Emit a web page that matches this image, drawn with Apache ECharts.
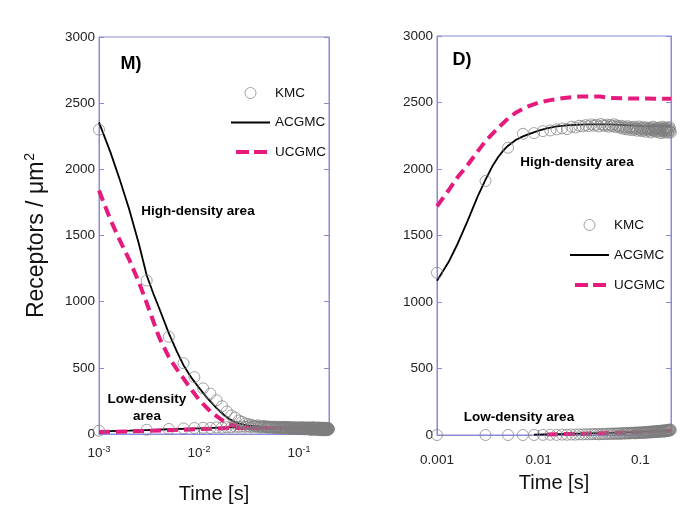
<!DOCTYPE html>
<html>
<head>
<meta charset="utf-8">
<script src="https://cdn.jsdelivr.net/npm/echarts@6/dist/echarts.min.js"></script>
<style>
html,body{margin:0;padding:0;background:#fff;}
#chart{width:685px;height:528px;}
</style>
</head>
<body>
<div id="chart"></div>
<script>
// ---------- DATA ----------
// KMC sampling times (s)
const kmcTimes = [
0.001,0.003,0.005,0.007,0.009,0.011,0.013,0.015,0.017,0.019,
0.021,0.023,0.025,0.027,0.029,0.031,0.033,0.035,0.037,0.039,
0.041,0.043,0.045,0.047,0.049,0.051,0.053,0.055,0.057,0.059,
0.061,0.063,0.065,0.067,0.069,0.071,0.073,0.075,0.077,0.079,
0.081,0.083,0.085,0.087,0.089,0.091,0.093,0.095,0.097,0.099,
0.101,0.103,0.105,0.107,0.109,0.111,0.113,0.115,0.117,0.119,
0.121,0.123,0.125,0.127,0.129,0.131,0.133,0.135,0.137,0.139,
0.141,0.143,0.145,0.147,0.149,0.151,0.153,0.155,0.157,0.159,
0.161,0.163,0.165,0.167,0.169,0.171,0.173,0.175,0.177,0.179,
0.181,0.183,0.185,0.187,0.189,0.191,0.193,0.195,0.197,0.199];

// Panel M (left)
const mKmcHigh = [
2300,1160,735,535,430,345,305,255,210,170,
140,125,102,92,80,75,70,64,60,66,
58,55,61,52,57,50,54,48,56,46,
52,44,50,47,41,55,45,49,40,53,
43,48,38,51,45,39,50,42,47,36,
49,41,44,37,52,40,46,35,48,42,
38,50,43,33,47,40,45,30,52,39,
44,36,49,41,32,47,38,43,29,50,
40,35,46,31,44,38,27,48,36,42,
33,45,39,28,47,35,41,30,44,38];
const mKmcLow = [
25,32,38,42,45,47,46,50,48,52,
51,55,53,56,54,58,52,57,55,50,
54,49,56,52,47,55,50,53,46,51,
48,54,45,50,52,44,49,53,42,48,
51,45,47,40,50,46,43,49,38,47,
44,50,41,46,36,48,43,39,47,42,
45,37,49,41,44,34,46,40,43,35,
48,39,42,33,45,38,41,47,32,44,
37,42,30,46,39,35,43,31,45,38,
34,42,36,29,44,37,40,32,43,36];
const mAcgHighT = [0.001,0.0013,0.0016,0.002,0.0025,0.003,0.0035,0.004,0.005,0.006,0.007,0.0085,0.01,0.012,0.015,0.018,0.02,0.023,0.025,0.03,0.04,0.05,0.1,0.2];
const mAcgHighV = [2355,2130,1930,1700,1440,1200,1060,950,760,625,520,420,350,275,195,140,115,90,80,65,57,52,45,42];
const mUcgHighT = [0.001,0.0013,0.0016,0.002,0.0025,0.003,0.0035,0.004,0.005,0.006,0.007,0.0085,0.01,0.013,0.017,0.02,0.025,0.03,0.05,0.1,0.2];
const mUcgHighV = [1840,1620,1470,1320,1150,990,850,730,580,490,420,330,260,170,105,75,55,48,45,42,40];
const mLowT = [0.001,0.002,0.003,0.005,0.01,0.02,0.05,0.1,0.2];
const mAcgLowV = [20,25,30,36,43,50,50,46,42];
const mUcgLowV = [15,19,23,29,37,45,46,43,40];

// Panel D (right)
const dKmcHigh = [
1220,1910,2160,2265,2270,2285,2290,2298,2305,2300,
2318,2312,2325,2320,2330,2322,2335,2326,2332,2320,
2338,2328,2324,2334,2318,2330,2322,2336,2315,2327,
2320,2310,2325,2305,2318,2300,2312,2322,2296,2308,
2315,2292,2305,2318,2298,2310,2288,2302,2320,2295,
2308,2285,2300,2315,2290,2305,2280,2312,2296,2302,
2288,2310,2298,2275,2305,2292,2318,2284,2300,2295,
2310,2282,2298,2305,2278,2295,2312,2288,2300,2270,
2305,2290,2318,2285,2298,2275,2308,2292,2300,2280,
2312,2288,2296,2272,2305,2290,2315,2282,2298,2275];
const dKmcLow = [
0,0,0,0,0,1,2,1,3,2,
4,3,5,4,6,5,7,6,8,5,
7,9,6,10,8,11,7,12,9,10,
13,8,12,14,10,15,11,16,13,12,
17,14,15,18,12,19,16,14,20,17,
15,21,18,16,22,19,17,24,20,18,
25,21,19,26,23,20,28,22,25,21,
29,24,27,22,30,26,32,23,28,31,
27,33,25,30,35,28,32,26,36,30,
34,29,38,31,35,40,33,37,42,36];
const dAcgHighT = [0.001,0.0013,0.0016,0.002,0.0025,0.003,0.0035,0.004,0.0045,0.005,0.006,0.007,0.008,0.01,0.012,0.015,0.02,0.03,0.05,0.1,0.2];
const dAcgHighV = [1160,1300,1440,1610,1790,1920,2020,2090,2140,2175,2220,2245,2262,2288,2305,2320,2330,2335,2335,2325,2320];
const dUcgHighT = [0.001,0.0013,0.0016,0.002,0.0025,0.003,0.004,0.005,0.006,0.0075,0.01,0.013,0.017,0.025,0.04,0.05,0.08,0.2];
const dUcgHighV = [1720,1840,1940,2030,2130,2210,2310,2380,2425,2465,2500,2518,2532,2545,2545,2535,2530,2528];
const dAcgLowT = [0.009,0.015,0.02,0.03,0.05,0.1,0.2];
const dAcgLowV = [3,6,9,12,16,24,34];
const dUcgLowT = [0.012,0.015,0.02,0.03,0.05,0.1,0.2];
const dUcgLowV = [4,6,8,11,15,22,32];

const yTicks = [0,500,1000,1500,2000,2500,3000];

// ---------- STYLES ----------
const FONT = 'Liberation Sans, Arial, sans-serif';
const FRAME = '#8a8ad8';
const PINK = '#e6197d';
const CIRCLE = '#7d7d7d';
const CLEAR = 'rgba(0,0,0,0)';

const zip = (t, v) => t.map((x, i) => [x, v[i]]);

function xAxisCfg(grid, superscript, margin) {
  return {
    type: 'log', logBase: 10, gridIndex: grid, min: 0.001, max: 0.2,
    axisLine: { lineStyle: { color: FRAME, width: 1 } },
    axisTick: { inside: true, length: 5, lineStyle: { color: FRAME } },
    minorTick: { show: false },
    splitLine: { show: false },
    axisLabel: {
      showMaxLabel: false, margin: margin, color: '#222', fontFamily: FONT, fontSize: 13.5,
      formatter: superscript
        ? (v => '{b|10}{s|' + Math.round(Math.log10(v)) + '}')
        : (v => String(+(+v).toPrecision(3))),
      rich: superscript ? {
        b: { fontSize: 13.5, fontFamily: FONT, color: '#222' },
        s: { fontSize: 9, fontFamily: FONT, color: '#222', padding: [0, 0, 8, 0] }
      } : undefined
    }
  };
}
function yAxisCfg(grid, pos, labels, name) {
  return {
    type: 'value', gridIndex: grid, position: pos, min: yTicks[0], max: yTicks[yTicks.length - 1], interval: 500,
    axisLine: { show: true, lineStyle: { color: FRAME, width: 1 } },
    axisTick: { show: true, inside: true, length: 5, lineStyle: { color: FRAME } },
    splitLine: { show: false },
    axisLabel: { show: labels, margin: 4, color: '#222', fontFamily: FONT, fontSize: 13.5, formatter: v => String(v) },
    name: name || '',
    nameLocation: 'middle', nameGap: 49, nameRotate: 90,
    nameTextStyle: {
      fontFamily: FONT, fontSize: 23, color: '#111',
      rich: {
        a: { fontFamily: FONT, fontSize: 23, color: '#111' },
        s: { fontFamily: FONT, fontSize: 14, color: '#111', padding: [0, 0, 13, 1] }
      }
    }
  };
}

function kmcSeries(name, x, y, data) {
  return {
    name: name, type: 'scatter', xAxisIndex: x, yAxisIndex: y, data: data,
    symbol: 'circle', symbolSize: 11, z: 3,
    itemStyle: { color: CLEAR, borderColor: CIRCLE, borderWidth: 0.9 },
    emphasis: { disabled: true }
  };
}
function acgSeries(name, x, y, data) {
  return {
    name: name, type: 'line', xAxisIndex: x, yAxisIndex: y, data: data,
    symbol: 'none', smooth: false, z: 2,
    lineStyle: { color: '#000', width: 1.8 }, itemStyle: { color: '#000' },
    emphasis: { disabled: true }
  };
}
function ucgSeries(name, x, y, data) {
  return {
    name: name, type: 'line', xAxisIndex: x, yAxisIndex: y, data: data,
    symbol: 'none', smooth: false, z: 2,
    lineStyle: { color: PINK, width: 4, type: [11, 6], cap: 'butt' }, itemStyle: { color: PINK },
    emphasis: { disabled: true }
  };
}

const legendData = [
  { name: 'KMC', icon: 'circle', itemStyle: { color: CLEAR, borderColor: CIRCLE, borderWidth: 0.9 } },
  { name: 'ACGMC', itemStyle: { color: CLEAR, borderColor: CLEAR, borderWidth: 0 },
    lineStyle: { color: '#000', width: 2 } },
  { name: 'UCGMC', itemStyle: { color: CLEAR, borderColor: CLEAR, borderWidth: 0 },
    lineStyle: { color: PINK, width: 4, type: [13, 5], dashOffset: 13, cap: 'butt' } }
];

const chart = echarts.init(document.getElementById('chart'), null, { renderer: 'canvas' });
chart.setOption({
  animation: false,
  backgroundColor: '#fff',
  grid: [
    { left: 99, top: 37, width: 230, height: 397, show: true, borderColor: FRAME, borderWidth: 1 },
    { left: 437, top: 36, width: 234, height: 399, show: true, borderColor: FRAME, borderWidth: 1 }
  ],
  xAxis: [
    Object.assign(xAxisCfg(0, true, 11), { name: 'Time [s]', nameLocation: 'middle', nameGap: 50,
      nameTextStyle: { fontFamily: FONT, fontSize: 20, color: '#111' } }),
    Object.assign(xAxisCfg(1, false, 18), { name: 'Time [s]', nameLocation: 'middle', nameGap: 38,
      nameTextStyle: { fontFamily: FONT, fontSize: 20, color: '#111' } })
  ],
  yAxis: [
    yAxisCfg(0, 'left', true, '{a|Receptors / μm}{s|2}'),
    yAxisCfg(0, 'right', false),
    yAxisCfg(1, 'left', true),
    yAxisCfg(1, 'right', false)
  ],
  legend: [
    { left: 229, top: 86, orient: 'vertical', itemWidth: 39, itemHeight: 11, itemGap: 15.5, padding: 0,
      selectedMode: false, textStyle: { fontFamily: FONT, fontSize: 13.5, color: '#111' }, data: legendData },
    { left: 568, top: 218, orient: 'vertical', itemWidth: 39, itemHeight: 11, itemGap: 16, padding: 0,
      selectedMode: false, textStyle: { fontFamily: FONT, fontSize: 13.5, color: '#111' }, data: legendData }
  ],
  graphic: [
    { type: 'text', x: 131, y: 64, style: { text: 'M)', font: 'bold 18px ' + FONT, fill: '#000', align: 'center', verticalAlign: 'middle' } },
    { type: 'text', x: 462, y: 60, style: { text: 'D)', font: 'bold 18px ' + FONT, fill: '#000', align: 'center', verticalAlign: 'middle' } },
    { type: 'text', x: 198, y: 211, style: { text: 'High-density area', font: 'bold 13.5px ' + FONT, fill: '#000', align: 'center', verticalAlign: 'middle' } },
    { type: 'text', x: 147, y: 399, style: { text: 'Low-density', font: 'bold 13.5px ' + FONT, fill: '#000', align: 'center', verticalAlign: 'middle' } },
    { type: 'text', x: 147, y: 416, style: { text: 'area', font: 'bold 13.5px ' + FONT, fill: '#000', align: 'center', verticalAlign: 'middle' } },
    { type: 'text', x: 577, y: 162, style: { text: 'High-density area', font: 'bold 13.5px ' + FONT, fill: '#000', align: 'center', verticalAlign: 'middle' } },
    { type: 'text', x: 519, y: 417, style: { text: 'Low-density area', font: 'bold 13.5px ' + FONT, fill: '#000', align: 'center', verticalAlign: 'middle' } }
  ],
  series: [
    acgSeries('ACGMC', 0, 0, zip(mAcgHighT, mAcgHighV)),
    acgSeries('ACGMC', 0, 0, zip(mLowT, mAcgLowV)),
    ucgSeries('UCGMC', 0, 0, zip(mUcgHighT, mUcgHighV)),
    ucgSeries('UCGMC', 0, 0, zip(mLowT, mUcgLowV)),
    kmcSeries('KMC', 0, 0, zip(kmcTimes, mKmcHigh)),
    kmcSeries('KMC', 0, 0, zip(kmcTimes, mKmcLow)),
    acgSeries('ACGMC', 1, 2, zip(dAcgHighT, dAcgHighV)),
    acgSeries('ACGMC', 1, 2, zip(dAcgLowT, dAcgLowV)),
    ucgSeries('UCGMC', 1, 2, zip(dUcgHighT, dUcgHighV)),
    ucgSeries('UCGMC', 1, 2, zip(dUcgLowT, dUcgLowV)),
    kmcSeries('KMC', 1, 2, zip(kmcTimes, dKmcHigh)),
    kmcSeries('KMC', 1, 2, zip(kmcTimes, dKmcLow))
  ]
});
</script>
</body>
</html>
